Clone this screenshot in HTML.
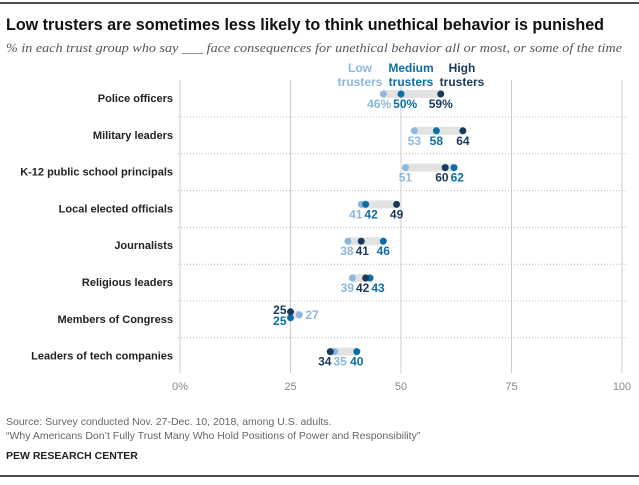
<!DOCTYPE html>
<html><head><meta charset="utf-8"><style>
body{margin:0;background:#fff;font-family:"Liberation Sans",sans-serif}
svg text{font-family:"Liberation Sans",sans-serif}
</style></head><body>
<svg width="639" height="480">
<line x1="0" x2="639" y1="3" y2="3" stroke="#111" stroke-width="1.5"/>
<text x="6" y="30" font-size="17" font-weight="bold" fill="#111" textLength="598" lengthAdjust="spacingAndGlyphs">Low trusters are sometimes less likely to think unethical behavior is punished</text>
<text x="6" y="52" font-size="12.5" font-style="italic" fill="#555" style="font-family:'Liberation Serif',serif" textLength="616" lengthAdjust="spacingAndGlyphs">% in each trust group who say ___ face consequences for unethical behavior all or most, or some of the time</text>
<g id="grid"></g>
<g id="rows"></g>
<g font-size="12" font-weight="bold" text-anchor="middle">
<text x="360" y="72" fill="#8cb8e0">Low</text><text x="360" y="86" fill="#8cb8e0">trusters</text>
<text x="411" y="72" fill="#0b6fa4">Medium</text><text x="411" y="86" fill="#0b6fa4">trusters</text>
<text x="462" y="72" fill="#1a3a5c">High</text><text x="462" y="86" fill="#1a3a5c">trusters</text>
</g>
<text x="6" y="425" font-size="10.5" fill="#666">Source: Survey conducted Nov. 27-Dec. 10, 2018, among U.S. adults.</text>
<text x="6" y="439" font-size="10.5" fill="#666">“Why Americans Don’t Fully Trust Many Who Hold Positions of Power and Responsibility”</text>
<text x="6" y="459" font-size="10.5" font-weight="bold" fill="#222">PEW RESEARCH CENTER</text>
<line x1="0" x2="639" y1="476" y2="476" stroke="#111" stroke-width="1.5"/>
</svg>
<script>
const categories=["Police officers","Military leaders","K-12 public school principals","Local elected officials","Journalists","Religious leaders","Members of Congress","Leaders of tech companies"];
const low=[46,53,51,41,38,39,27,35];
const medium=[50,58,62,42,46,43,25,40];
const high=[59,64,60,49,41,42,25,34];
const ticks=[0,25,50,75,100];
const NS="http://www.w3.org/2000/svg";
const x=v=>180+v*4.42;
const rowY=i=>94+i*36.8;
const C={low:"#8cb8e0",medium:"#0b6fa4",high:"#1a3a5c"};
function mk(t,a,p){const e=document.createElementNS(NS,t);for(const k in a)e.setAttribute(k,a[k]);p.appendChild(e);return e;}
const grid=document.getElementById('grid'),rows=document.getElementById('rows');
ticks.forEach((t,i)=>{
  const l=mk('line',{x1:x(t),x2:x(t),y1:80,y2:373,stroke:'#ccc','stroke-width':1},grid);
  
  
  const tx=mk('text',{x:x(t),y:390,'font-size':11,fill:'#888','text-anchor':'middle'},grid);
  tx.textContent=t===0?'0%':t;
  
  
});
categories.forEach((c,i)=>{
  const y=rowY(i);
  if(i<categories.length-1){const s=mk('line',{x1:178,x2:628,y1:y+23,y2:y+23,stroke:'#bbb','stroke-dasharray':'1,2'},rows);
  
  }
  const lb=mk('text',{x:173,y:y+8,'font-size':11,'font-weight':'bold',fill:'#222','text-anchor':'end'},rows);
  lb.textContent=c;
  
  
  const vals={low:low[i],medium:medium[i],high:high[i]};
  const mn=Math.min(low[i],medium[i],high[i]),mx=Math.max(low[i],medium[i],high[i]);
  const bar=mk('rect',{x:x(mn),y:y-4,width:x(mx)-x(mn),height:8,fill:'#e2e2e2'},rows);
  
  
  const congress=c==="Members of Congress";
  const offs={low:0,medium:0,high:0};
  if(congress){offs.high=-3;offs.medium=3;}
  ['low','medium','high'].forEach(k=>{
    const d=mk('circle',{cx:x(vals[k]),cy:y+offs[k],r:3.5,fill:C[k]},rows);
    
    
  });
  const pct=i===0?'%':'';
  if(congress){
    const a=[['high',x(high[i])-4,y-1,'end'],['medium',x(medium[i])-4,y+10,'end'],['low',x(low[i])+6,y+4,'start']];
    a.forEach(([k,lx,ly,an])=>{const t=mk('text',{x:lx,y:ly,'font-size':12,'font-weight':'bold',fill:C[k],'text-anchor':an},rows);t.textContent=vals[k];
    
    });
  } else {
    const labs=[];
    ['low','medium','high'].forEach(k=>{
      const t=mk('text',{x:x(vals[k]),y:y+14,'font-size':12,'font-weight':'bold',fill:C[k],'text-anchor':'middle'},rows);
      t.textContent=vals[k]+pct;
      
      
      labs.push({t,cx:x(vals[k]),w:t.getComputedTextLength()});
    });
    labs.sort((a,b)=>a.cx-b.cx);
    for(let it=0;it<20;it++){
      for(let j=0;j<labs.length-1;j++){
        const a=labs[j],b=labs[j+1];
        const need=(a.w+b.w)/2+2-(b.cx-a.cx);
        if(need>0){a.cx-=need/2;b.cx+=need/2;}
      }
    }
    labs.forEach(l=>l.t.setAttribute('x',l.cx));
  }
});
</script>
</body></html>
